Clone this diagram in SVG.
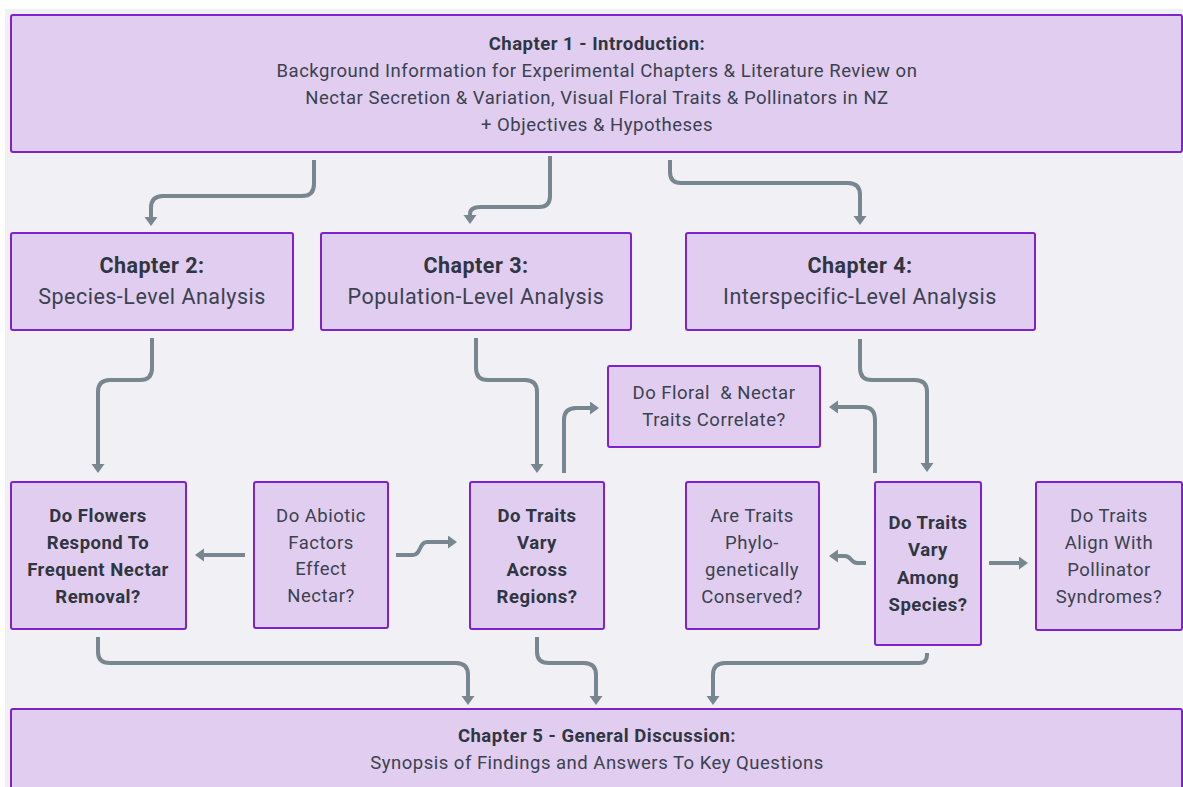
<svg xmlns="http://www.w3.org/2000/svg" width="1183" height="787" viewBox="0 0 1183 787">
<defs>
<style>
.bx{fill:#e1cdef;stroke:#7e22ce;stroke-width:2}
.t{font-family:Roboto,"Liberation Sans",sans-serif;font-size:18.5px;letter-spacing:0.5px;fill:#3a4250;text-anchor:middle}
.b{font-weight:bold;fill:#2f3642}
.big{font-size:21.5px}
.c{fill:none;stroke:#78868f;stroke-width:4}
</style>
<marker id="ah" markerUnits="userSpaceOnUse" markerWidth="10" markerHeight="14" refX="0" refY="6.5" orient="auto">
<path d="M0,0 L9,6.5 L0,13 z" fill="#78868f"/>
</marker>
</defs>
<rect x="0" y="0" width="1183" height="787" fill="#ffffff"/>
<rect x="5" y="9" width="1178" height="778" fill="#f0f0f5"/>
<g id="connectors">
<path class="c" marker-end="url(#ah)" d="M314,160 V184 Q314,196 302,196 H163 Q151,196 151,208 V217"/>
<path class="c" marker-end="url(#ah)" d="M550,156 V196 Q550,207 539,207 H481 Q470,207 470,214 V215"/>
<path class="c" marker-end="url(#ah)" d="M670,160 V172 Q670,183 681,183 H848 Q860,183 860,195 V216"/>
<path class="c" marker-end="url(#ah)" d="M152,338 V368 Q152,380 140,380 H110 Q98,380 98,392 V464"/>
<path class="c" marker-end="url(#ah)" d="M476,338 V368 Q476,380 488,380 H525 Q537,380 537,392 V464"/>
<path class="c" marker-end="url(#ah)" d="M564,473 V420 Q564,408 576,408 H590"/>
<path class="c" marker-end="url(#ah)" d="M245,555 H204"/>
<path class="c" marker-end="url(#ah)" d="M396,555 H413 C421,555 419,542 427,542 H448"/>
<path class="c" marker-end="url(#ah)" d="M860,339 V368 Q860,380 872,380 H915 Q927,380 927,392 V463"/>
<path class="c" marker-end="url(#ah)" d="M875,473 V420 Q875,407 863,407 H838"/>
<path class="c" marker-end="url(#ah)" d="M866,563 H857 C851,563 851,556 845,556 H838"/>
<path class="c" marker-end="url(#ah)" d="M989,563 H1019"/>
<path class="c" marker-end="url(#ah)" d="M98,637 V652 Q98,663 110,663 H456 Q468,663 468,675 V696"/>
<path class="c" marker-end="url(#ah)" d="M537,637 V652 Q537,663 549,663 H584 Q596,663 596,675 V696"/>
<path class="c" marker-end="url(#ah)" d="M927,653 V655 Q927,663 919,663 H725 Q713,663 713,675 V696"/>
</g>
<g id="ch1">
<rect class="bx" x="11" y="15" width="1171" height="137" rx="2"/>
<text class="t b" x="597" y="50">Chapter 1 - Introduction:</text>
<text class="t" x="597" y="77">Background Information for Experimental Chapters &amp; Literature Review on</text>
<text class="t" x="597" y="104">Nectar Secretion &amp; Variation, Visual Floral Traits &amp; Pollinators in NZ</text>
<text class="t" x="597" y="131">+ Objectives &amp; Hypotheses</text>
</g>
<g id="ch2">
<rect class="bx" x="11" y="233" width="282" height="97" rx="2"/>
<text class="t b big" x="152" y="273">Chapter 2:</text>
<text class="t big" x="152" y="304">Species-Level Analysis</text>
</g>
<g id="ch3">
<rect class="bx" x="321" y="233" width="310" height="97" rx="2"/>
<text class="t b big" x="476" y="273">Chapter 3:</text>
<text class="t big" x="476" y="304">Population-Level Analysis</text>
</g>
<g id="ch4">
<rect class="bx" x="686" y="233" width="349" height="97" rx="2"/>
<text class="t b big" x="860" y="273">Chapter 4:</text>
<text class="t big" x="860" y="304">Interspecific-Level Analysis</text>
</g>
<g id="floral">
<rect class="bx" x="608" y="366" width="212" height="81" rx="2"/>
<text class="t" x="714" y="399" xml:space="preserve">Do Floral  &amp; Nectar</text>
<text class="t" x="714" y="426">Traits Correlate?</text>
</g>
<g id="flowers">
<rect class="bx" x="11" y="482" width="175" height="147" rx="2"/>
<text class="t b" x="98" y="522">Do Flowers</text>
<text class="t b" x="98" y="549">Respond To</text>
<text class="t b" x="98" y="576">Frequent Nectar</text>
<text class="t b" x="98" y="603">Removal?</text>
</g>
<g id="abiotic">
<rect class="bx" x="254" y="482" width="134" height="146" rx="2"/>
<text class="t" x="321" y="522">Do Abiotic</text>
<text class="t" x="321" y="549">Factors</text>
<text class="t" x="321" y="575">Effect</text>
<text class="t" x="321" y="602">Nectar?</text>
</g>
<g id="regions">
<rect class="bx" x="470" y="482" width="134" height="147" rx="2"/>
<text class="t b" x="537" y="522">Do Traits</text>
<text class="t b" x="537" y="549">Vary</text>
<text class="t b" x="537" y="576">Across</text>
<text class="t b" x="537" y="603">Regions?</text>
</g>
<g id="phylo">
<rect class="bx" x="686" y="482" width="133" height="147" rx="2"/>
<text class="t" x="752" y="522">Are Traits</text>
<text class="t" x="752" y="549">Phylo-</text>
<text class="t" x="752" y="576">genetically</text>
<text class="t" x="752" y="603">Conserved?</text>
</g>
<g id="species">
<rect class="bx" x="875" y="482" width="106" height="163" rx="2"/>
<text class="t b" x="928" y="529">Do Traits</text>
<text class="t b" x="928" y="556">Vary</text>
<text class="t b" x="928" y="584">Among</text>
<text class="t b" x="928" y="611">Species?</text>
</g>
<g id="align">
<rect class="bx" x="1036" y="482" width="146" height="148" rx="2"/>
<text class="t" x="1109" y="522">Do Traits</text>
<text class="t" x="1109" y="549">Align With</text>
<text class="t" x="1109" y="576">Pollinator</text>
<text class="t" x="1109" y="603">Syndromes?</text>
</g>
<g id="ch5">
<rect class="bx" x="11" y="709" width="1171" height="90" rx="2"/>
<text class="t b" x="597" y="742">Chapter 5 - General Discussion:</text>
<text class="t" x="597" y="769">Synopsis of Findings and Answers To Key Questions</text>
</g>
</svg>
